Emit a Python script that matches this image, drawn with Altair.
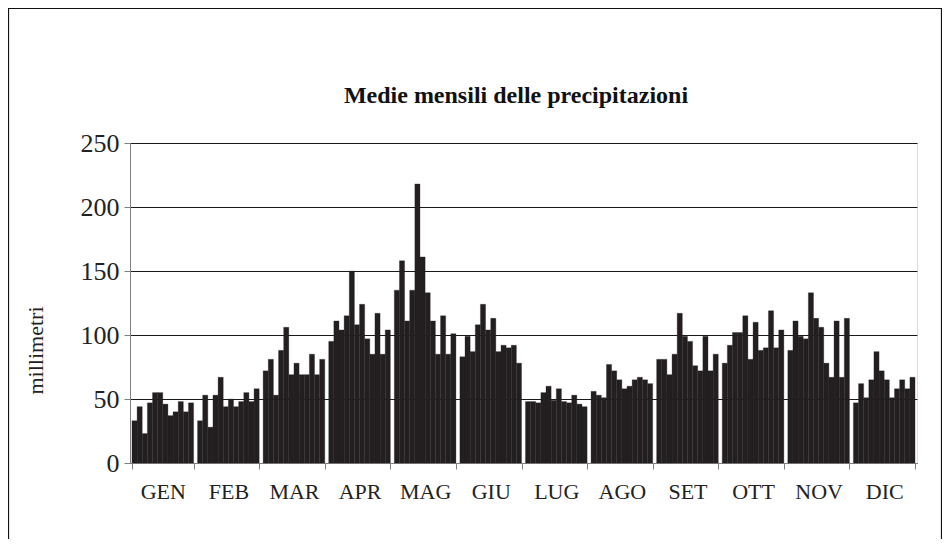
import altair as alt
import pandas as pd

months = ["GEN", "FEB", "MAR", "APR", "MAG", "GIU", "LUG", "AGO", "SET", "OTT", "NOV", "DIC"]

gen = [33, 44, 23, 47, 55, 55, 46, 37, 40, 48, 40, 47]
feb = [33, 53, 28, 53, 67, 44, 50, 44, 48, 55, 48, 58]
mar = [72, 81, 53, 88, 106, 69, 78, 69, 69, 85, 69, 81]
apr = [95, 111, 104, 115, 150, 108, 124, 97, 85, 117, 85, 104]
mag = [135, 158, 111, 135, 218, 161, 133, 111, 85, 115, 85, 101]
giu = [83, 99, 87, 108, 124, 104, 113, 87, 92, 90, 92, 78]
lug = [48, 48, 47, 55, 60, 49, 58, 48, 47, 53, 46, 44]
ago = [56, 53, 51, 77, 72, 65, 58, 60, 65, 67, 65, 62]
set_ = [81, 81, 69, 85, 117, 99, 95, 76, 72, 99, 72, 85]
ott = [78, 92, 102, 102, 115, 81, 110, 88, 90, 119, 90, 104]
nov = [88, 111, 99, 97, 133, 113, 106, 78, 67, 111, 67, 113]
dic = [47, 62, 51, 65, 87, 72, 65, 51, 58, 65, 58, 67]

y_ticks = [0, 50, 100, 150, 200, 250]
title_text = "Medie mensili delle precipitazioni"

series = [gen, feb, mar, apr, mag, giu, lug, ago, set_, ott, nov, dic]
rows = []
for m, vals in zip(months, series):
    for i, v in enumerate(vals):
        rows.append({"mese": m, "serie": i + 1, "mm": v})
df = pd.DataFrame(rows)

FONT = "Liberation Serif"

bars = alt.Chart(df).mark_bar(color="#231f20", stroke="#231f20", strokeWidth=0.3).encode(
    x=alt.X(
        "mese:N",
        sort=months,
        scale=alt.Scale(paddingInner=0.06, paddingOuter=0.03),
        axis=alt.Axis(
            title=None,
            labelAngle=0,
            labelFont=FONT,
            labelFontSize=22,
            labelColor="#222222",
            labelPadding=12,
            tickBand="extent",
            tickSize=6,
            tickColor="#808080",
            domainColor="#808080",
            grid=False,
        ),
    ),
    xOffset=alt.XOffset("serie:O", scale=alt.Scale(paddingInner=0, paddingOuter=0)),
    y=alt.Y(
        "mm:Q",
        scale=alt.Scale(domain=[0, 250], nice=False),
        axis=alt.Axis(
            title="millimetri",
            titleFont=FONT,
            titleFontSize=22,
            titleFontWeight="normal",
            titleColor="#222222",
            titleX=-95,
            titleY=207,
            titleAlign="center",
            titleBaseline="middle",
            values=y_ticks,
            labelFont=FONT,
            labelFontSize=26,
            labelColor="#222222",
            labelPadding=5,
            tickSize=6,
            tickColor="#808080",
            domainColor="#808080",
            gridColor="#1a1a1a",
            gridWidth=1.2,
        ),
    ),
)

one = pd.DataFrame({"t": [title_text]})
frame = alt.Chart(one).mark_rect(fillOpacity=0, stroke="#111111", strokeWidth=1.2).encode(
    x=alt.value(-121.5), x2=alt.value(811.5), y=alt.value(-134.5), y2=alt.value(420)
)
title = alt.Chart(one).mark_text(
    font=FONT, fontSize=24, fontWeight="bold", color="#111111", align="center", baseline="alphabetic"
).encode(text="t:N", x=alt.value(386), y=alt.value(-40))

chart = alt.layer(frame, bars, title).properties(
    width=787,
    height=320,
    autosize=alt.AutoSizeParams(type="none"),
    padding={"left": 122, "top": 135, "right": 25, "bottom": 76},
).configure_view(stroke="#808080", strokeWidth=1.2).configure(background="white")

chart.save("out.html", embed_options={"renderer": "svg", "actions": False})
